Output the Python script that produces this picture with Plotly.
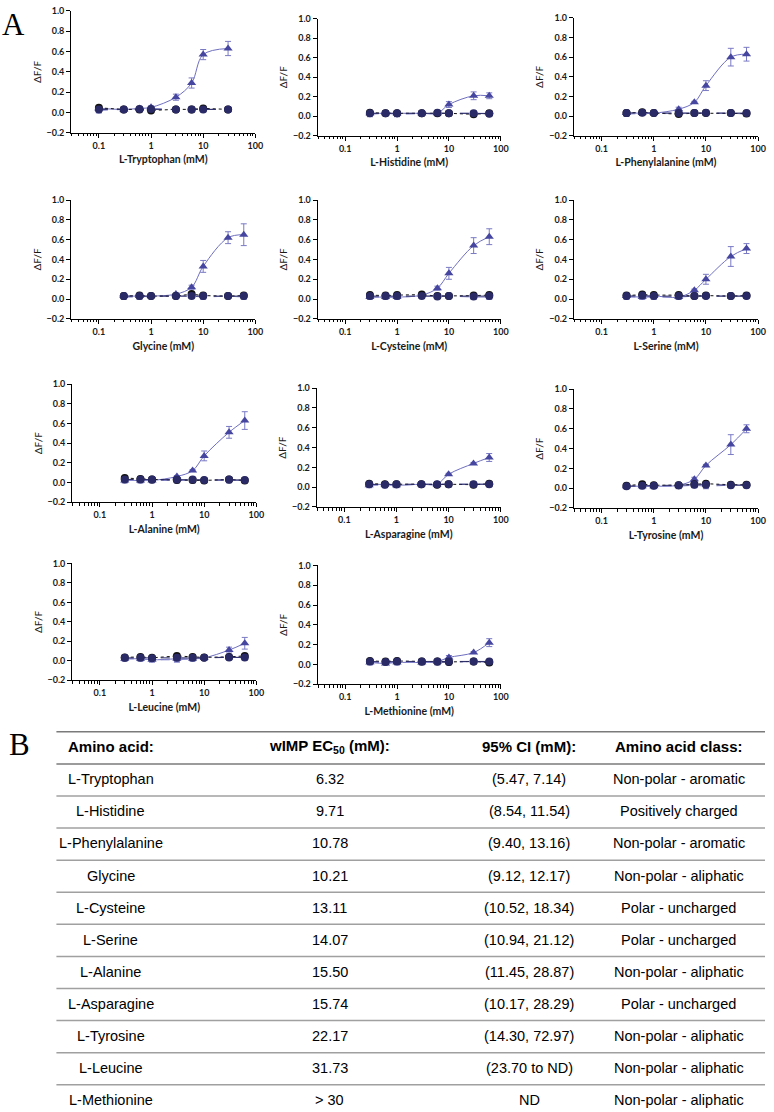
import plotly.graph_objects as go

W, H = 774, 1112

# ---------------- data ----------------
conc_trp = [0.1, 0.3, 0.6, 1, 3, 6, 10, 30]
conc_std = [0.3, 0.6, 1, 3, 6, 10, 30, 60]

x_titles = ["L-Tryptophan (mM)", "L-Histidine (mM)", "L-Phenylalanine (mM)",
            "Glycine (mM)", "L-Cysteine (mM)", "L-Serine (mM)",
            "L-Alanine (mM)", "L-Asparagine (mM)", "L-Tyrosine (mM)",
            "L-Leucine (mM)", "L-Methionine (mM)"]

trp_resp = [0.04, 0.03, 0.04, 0.05, 0.15, 0.29, 0.57, 0.63]
trp_err = [0.01, 0.005, 0.01, 0.01, 0.03, 0.05, 0.05, 0.07]
trp_black = [0.045, 0.03, 0.03, 0.02, 0.03, 0.03, 0.04, 0.03]
trp_navy = [0.03, 0.03, 0.035, 0.035, 0.03, 0.03, 0.03, 0.03]
trp_sq = [0.02, 0.03, 0.03, 0.04, 0.03, 0.03, 0.03, 0.03]

his_resp = [0.03, 0.03, 0.03, 0.03, 0.03, 0.12, 0.21, 0.21]
his_err = [0.01, 0.01, 0.02, 0.01, 0.01, 0.03, 0.04, 0.03]
his_black = [0.035, 0.03, 0.03, 0.03, 0.03, 0.03, 0.02, 0.03]
his_navy = [0.03, 0.03, 0.03, 0.03, 0.035, 0.03, 0.03, 0.025]
his_sq = [0.02, 0.03, 0.02, 0.03, 0.03, 0.03, 0.03, 0.03]

phe_resp = [0.03, 0.03, 0.03, 0.07, 0.14, 0.31, 0.60, 0.63]
phe_err = [0.01, 0.01, 0.01, 0.02, 0.01, 0.05, 0.09, 0.07]
phe_black = [0.03, 0.04, 0.03, 0.02, 0.03, 0.03, 0.03, 0.025]
phe_navy = [0.03, 0.035, 0.03, 0.03, 0.03, 0.035, 0.03, 0.03]
phe_sq = [0.02, 0.03, 0.03, 0.03, 0.03, 0.03, 0.03, 0.02]

gly_resp = [0.03, 0.03, 0.03, 0.05, 0.12, 0.33, 0.62, 0.65]
gly_err = [0.01, 0.01, 0.01, 0.01, 0.02, 0.06, 0.06, 0.11]
gly_black = [0.03, 0.035, 0.03, 0.03, 0.05, 0.035, 0.03, 0.035]
gly_navy = [0.03, 0.03, 0.03, 0.03, 0.03, 0.03, 0.03, 0.03]
gly_sq = [0.02, 0.02, 0.03, 0.03, 0.03, 0.02, 0.03, 0.02]

cys_resp = [0.02, 0.02, 0.02, 0.04, 0.11, 0.26, 0.54, 0.63]
cys_err = [0.01, 0.01, 0.01, 0.01, 0.02, 0.06, 0.08, 0.08]
cys_black = [0.04, 0.035, 0.04, 0.045, 0.03, 0.03, 0.035, 0.04]
cys_navy = [0.03, 0.03, 0.03, 0.03, 0.025, 0.03, 0.025, 0.03]
cys_sq = [0.02, 0.02, 0.02, 0.03, 0.03, 0.03, 0.02, 0.02]

ser_resp = [0.03, 0.02, 0.03, 0.02, 0.09, 0.20, 0.43, 0.51]
ser_err = [0.01, 0.02, 0.02, 0.02, 0.01, 0.05, 0.10, 0.05]
ser_black = [0.035, 0.045, 0.04, 0.04, 0.03, 0.035, 0.03, 0.035]
ser_navy = [0.03, 0.035, 0.03, 0.03, 0.03, 0.03, 0.03, 0.03]
ser_sq = [0.02, 0.02, 0.02, 0.02, 0.03, 0.03, 0.03, 0.03]

ala_resp = [0.02, 0.02, 0.02, 0.06, 0.12, 0.27, 0.51, 0.63]
ala_err = [0.01, 0.01, 0.01, 0.01, 0.01, 0.05, 0.06, 0.09]
ala_black = [0.045, 0.035, 0.03, 0.025, 0.025, 0.02, 0.03, 0.02]
ala_navy = [0.03, 0.03, 0.03, 0.03, 0.03, 0.025, 0.03, 0.025]
ala_sq = [0.02, 0.02, 0.02, 0.02, 0.02, 0.02, 0.02, 0.02]

asn_resp = [0.02, 0.03, 0.02, 0.03, 0.03, 0.13, 0.24, 0.30]
asn_err = [0.01, 0.02, 0.01, 0.01, 0.01, 0.01, 0.01, 0.04]
asn_black = [0.035, 0.03, 0.03, 0.03, 0.025, 0.03, 0.025, 0.035]
asn_navy = [0.03, 0.025, 0.03, 0.03, 0.03, 0.03, 0.03, 0.03]
asn_sq = [0.02, 0.02, 0.02, 0.03, 0.03, 0.03, 0.03, 0.03]

tyr_resp = [0.02, 0.02, 0.02, 0.03, 0.09, 0.23, 0.44, 0.60]
tyr_err = [0.01, 0.01, 0.02, 0.01, 0.02, 0.01, 0.10, 0.04]
tyr_black = [0.025, 0.04, 0.03, 0.03, 0.04, 0.045, 0.035, 0.035]
tyr_navy = [0.02, 0.025, 0.025, 0.03, 0.035, 0.035, 0.03, 0.03]
tyr_sq = [0.02, 0.02, 0.02, 0.02, 0.03, 0.02, 0.03, 0.03]

leu_resp = [0.02, 0.02, 0.01, 0.02, 0.02, 0.03, 0.11, 0.18]
leu_err = [0.01, 0.01, 0.01, 0.01, 0.01, 0.01, 0.03, 0.06]
leu_black = [0.035, 0.04, 0.03, 0.05, 0.04, 0.035, 0.04, 0.05]
leu_navy = [0.03, 0.03, 0.025, 0.03, 0.03, 0.03, 0.035, 0.035]
leu_sq = [0.02, 0.02, 0.01, 0.01, 0.02, 0.03, 0.04, 0.03]

met_resp = [0.02, 0.01, 0.02, 0.02, 0.03, 0.07, 0.12, 0.22]
met_err = [0.01, 0.01, 0.01, 0.01, 0.01, 0.02, 0.01, 0.04]
met_black = [0.035, 0.03, 0.035, 0.03, 0.03, 0.025, 0.03, 0.02]
met_navy = [0.03, 0.025, 0.03, 0.03, 0.03, 0.03, 0.03, 0.03]
met_sq = [0.02, 0.02, 0.02, 0.02, 0.02, 0.02, 0.03, 0.02]

# table
tbl_amino = ["L-Tryptophan", "L-Histidine", "L-Phenylalanine", "Glycine", "L-Cysteine",
             "L-Serine", "L-Alanine", "L-Asparagine", "L-Tyrosine", "L-Leucine", "L-Methionine"]
tbl_ec50 = ["6.32", "9.71", "10.78", "10.21", "13.11", "14.07", "15.50", "15.74",
            "22.17", "31.73", "> 30"]
tbl_ci = ["(5.47, 7.14)", "(8.54, 11.54)", "(9.40, 13.16)", "(9.12, 12.17)", "(10.52, 18.34)",
          "(10.94, 21.12)", "(11.45, 28.87)", "(10.17, 28.29)", "(14.30, 72.97)",
          "(23.70 to ND)", "ND"]
tbl_class = ["Non-polar - aromatic", "Positively charged", "Non-polar - aromatic",
             "Non-polar - aliphatic", "Polar - uncharged", "Polar - uncharged",
             "Non-polar - aliphatic", "Polar - uncharged", "Non-polar - aliphatic",
             "Non-polar - aliphatic", "Non-polar - aliphatic"]
tbl_headers = ["Amino acid:", "wIMP EC<sub>50</sub> (mM):", "95% CI (mM):", "Amino acid class:"]

panels = [
    (conc_trp, trp_resp, trp_err, trp_black, trp_navy, trp_sq),
    (conc_std, his_resp, his_err, his_black, his_navy, his_sq),
    (conc_std, phe_resp, phe_err, phe_black, phe_navy, phe_sq),
    (conc_std, gly_resp, gly_err, gly_black, gly_navy, gly_sq),
    (conc_std, cys_resp, cys_err, cys_black, cys_navy, cys_sq),
    (conc_std, ser_resp, ser_err, ser_black, ser_navy, ser_sq),
    (conc_std, ala_resp, ala_err, ala_black, ala_navy, ala_sq),
    (conc_std, asn_resp, asn_err, asn_black, asn_navy, asn_sq),
    (conc_std, tyr_resp, tyr_err, tyr_black, tyr_navy, tyr_sq),
    (conc_std, leu_resp, leu_err, leu_black, leu_navy, leu_sq),
    (conc_std, met_resp, met_err, met_black, met_navy, met_sq),
]

# ---------------- layout geometry (pixels: left, right, top, bottom) ----------------
boxes = [
    (72, 258, 5, 128), (321, 506, 13, 131), (580, 766, 12, 131),
    (72, 258, 196, 316), (321, 506, 196, 316), (580, 766, 196, 316),
    (73, 259, 382, 501), (320, 506, 386, 506), (580, 766, 387, 507),
    (73, 259, 563, 681), (321, 506, 565, 685),
]


def px(x):
    return x / W


def py(y):
    return 1 - y / H


TRI = "#4646a0"
TRI_LINE = "#6e6ec0"
ERR = "#7a7ac4"
SQ = "#8585cc"
NAVY = "#2a2a66"
BLACK = "#111111"
FONT = "Lato, Open Sans, sans-serif"
TICKFONT = dict(family=FONT, size=9, color="#1a1a1a", weight="bold")

fig = go.Figure()
layout = {}
for i, (box, data) in enumerate(zip(boxes, panels)):
    n = i + 1
    xa = "x" if n == 1 else f"x{n}"
    ya = "y" if n == 1 else f"y{n}"
    conc, resp, err, blk, navy, sq = data
    # fitted curve (smooth line through the responses)
    fig.add_trace(go.Scatter(x=conc, y=resp, mode="lines",
                             line=dict(color=TRI_LINE, width=1, shape="spline", smoothing=1.0),
                             xaxis=xa, yaxis=ya, showlegend=False, hoverinfo="skip"))
    fig.add_trace(go.Scatter(x=conc, y=resp, mode="markers",
                             marker=dict(symbol="triangle-up", size=8, color=TRI),
                             error_y=dict(type="data", array=err, color=ERR, thickness=1, width=3),
                             xaxis=xa, yaxis=ya, showlegend=False))
    fig.add_trace(go.Scatter(x=conc, y=sq, mode="markers+lines",
                             marker=dict(symbol="square", size=6, color=SQ),
                             line=dict(color=SQ, width=1, dash="dash"),
                             xaxis=xa, yaxis=ya, showlegend=False))
    fig.add_trace(go.Scatter(x=conc, y=blk, mode="markers+lines",
                             marker=dict(symbol="circle", size=8, color=BLACK),
                             line=dict(color=BLACK, width=1, dash="dot"),
                             xaxis=xa, yaxis=ya, showlegend=False))
    fig.add_trace(go.Scatter(x=conc, y=navy, mode="markers+lines",
                             marker=dict(symbol="circle", size=8, color=NAVY),
                             line=dict(color=NAVY, width=1, dash="dash"),
                             xaxis=xa, yaxis=ya, showlegend=False))

    l, r, t, b = box
    xkey = "xaxis" if n == 1 else f"xaxis{n}"
    ykey = "yaxis" if n == 1 else f"yaxis{n}"
    layout[xkey] = dict(
        domain=[px(l), px(r)], anchor=ya, type="log", range=[-1.53, 2.0],
        tickvals=[0.1, 1, 10, 100], ticktext=["0.1", "1", "10", "100"],
        ticks="outside", ticklen=4, tickwidth=1, tickcolor="black",
        minor=dict(ticks="outside", ticklen=2.5, tickwidth=1, tickcolor="black", dtick="D1", showgrid=False),
        showline=True, linecolor="black", linewidth=1.2, showgrid=False, zeroline=False,
        tickfont=TICKFONT,
        title=dict(text=x_titles[i], font=dict(family=FONT, size=10.5, color="#1a1a1a", weight="bold"), standoff=6),
        fixedrange=True,
    )
    layout[ykey] = dict(
        domain=[py(b), py(t)], anchor=xa, range=[-0.2, 1.0],
        tickvals=[-0.2, 0, 0.2, 0.4, 0.6, 0.8, 1.0], tickformat=".1f",
        ticks="outside", ticklen=4, tickwidth=1, tickcolor="black",
        showline=True, linecolor="black", linewidth=1.2, showgrid=False, zeroline=False,
        tickfont=TICKFONT,
        title=dict(text="ΔF/F", font=dict(family=FONT, size=10, color="#1a1a1a"), standoff=3),
        fixedrange=True,
    )

annotations = []
shapes = []

# panel letters
LETTER = dict(family="Liberation Serif, DejaVu Serif, serif", size=31, color="black")
annotations.append(dict(text="A", x=px(14), y=py(19), xref="paper", yref="paper", showarrow=False,
                        xanchor="center", yanchor="middle", font=LETTER))
annotations.append(dict(text="B", x=px(20), y=py(746), xref="paper", yref="paper", showarrow=False,
                        xanchor="center", yanchor="middle", font=LETTER))

# table
col_x = [112, 333, 535, 686]
TFONT = "Liberation Sans, Arial, sans-serif"
header_y = 748
row_y0 = 781
row_h = 32.4
for cx, txt in zip(col_x, tbl_headers):
    annotations.append(dict(text=f"<b>{txt}</b>", x=px(cx), y=py(header_y), xref="paper", yref="paper",
                            showarrow=False, xanchor="center", yanchor="middle",
                            font=dict(family=TFONT, size=15, color="black")))
for k in range(len(tbl_amino)):
    yy = row_y0 + k * row_h
    for cx, col in zip(col_x, [tbl_amino, tbl_ec50, tbl_ci, tbl_class]):
        annotations.append(dict(text=col[k], x=px(cx), y=py(yy), xref="paper", yref="paper",
                                showarrow=False, xanchor="center", yanchor="middle",
                                font=dict(family=TFONT, size=14.5, color="black")))

line_ys = [733, 765.5] + [765.5 + row_h * (k + 1) for k in range(len(tbl_amino))]
for j, ly in enumerate(line_ys):
    shapes.append(dict(type="line", xref="paper", yref="paper", x0=px(57), x1=px(773),
                       y0=py(ly), y1=py(ly),
                       line=dict(color="#7a7a7a" if j < 2 else "#a0a0a0", width=1.5)))

fig.update_layout(
    width=W, height=H, margin=dict(l=0, r=0, t=0, b=0),
    paper_bgcolor="white", plot_bgcolor="white",
    showlegend=False, annotations=annotations, shapes=shapes, **layout,
)

fig.write_html("out.html", config={"displayModeBar": False},
               post_script="document.body.style.margin='0';document.body.style.padding='0';")
